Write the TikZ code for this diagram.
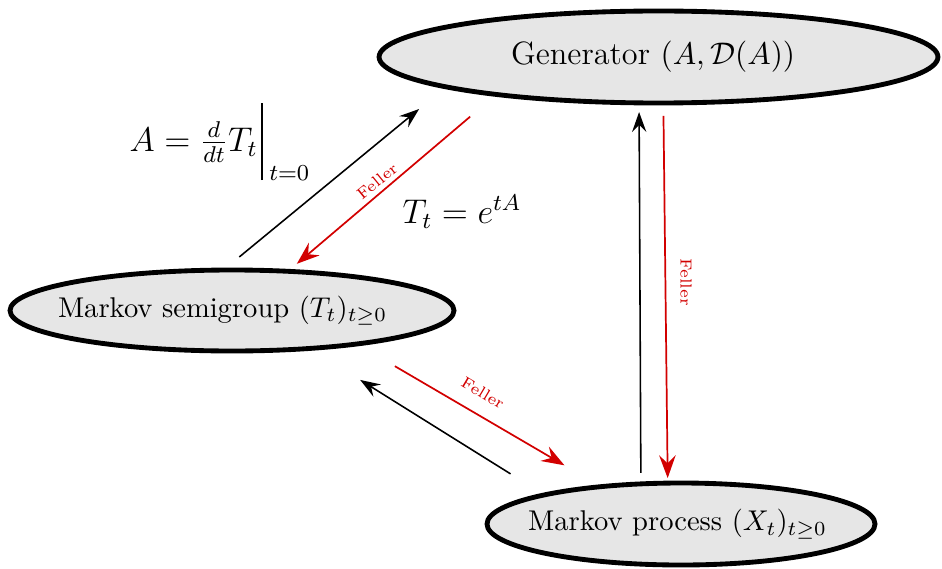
\documentclass[tikz,border=0pt]{standalone}
\usetikzlibrary{shapes.geometric,arrows.meta}
\definecolor{fred}{RGB}{210,0,0}
\definecolor{efill}{RGB}{230,230,230}
\begin{document}
\begin{tikzpicture}[x=0.35pt,y=-0.35pt,
  bubble/.style={ellipse,draw,line width=1.7pt,fill=efill,inner sep=0pt,outer sep=0pt},
  blk/.style={line width=0.55pt,-{Stealth[length=7pt,width=5pt,inset=2.5pt]}},
  redarr/.style={fred,line width=0.6pt,-{Stealth[length=8pt,width=5.8pt,inset=2.8pt]}},
  feller/.style={fred,font=\fontsize{5.6}{6}\selectfont,inner sep=0pt},
  mathlbl/.style={font=\fontsize{11.5}{14}\selectfont,inner sep=0pt,anchor=base west}]
\useasboundingbox (0,0) rectangle (942,568);
\node[bubble,minimum width=195.6pt,minimum height=32.2pt,font=\fontsize{11.3}{13}\selectfont] (gen) at (658.5,57)
  {\makebox[0pt]{\kern-3.8pt Generator $(A,\mathcal{D}(A))$}};
\node[bubble,minimum width=155.4pt,minimum height=28.35pt,font=\fontsize{10}{12}\selectfont] (sg) at (232,310.5)
  {\makebox[0pt]{\kern-6.6pt Markov semigroup $(T_t)_{t\geq 0}$}};
\node[bubble,minimum width=135.8pt,minimum height=28.7pt,font=\fontsize{10}{12}\selectfont] (proc) at (681,524)
  {\makebox[0pt]{\kern-2.4pt Markov process $(X_t)_{t\geq 0}$}};
\draw[blk,shorten <=7.2pt,shorten >=12.2pt] (sg.102.4) -- (gen.188);
\draw[redarr,shorten <=12pt,shorten >=4.05pt] (gen.193.9) -- (sg.35);
\draw[blk,shorten <=3.85pt,shorten >=3.2pt] (proc.135.6) -- (gen.247.5);
\draw[redarr,shorten <=4.55pt,shorten >=1.75pt] (gen.276.2) -- (proc.108.9);
\draw[redarr,shorten <=15.4pt,shorten >=14.8pt] (sg.345.6) -- (proc.155.2);
\draw[blk,shorten <=13.9pt,shorten >=20.8pt] (proc.168.1) -- (sg.334);
\node[mathlbl] (lA) at (129,151) {$A=\frac{d}{dt}T_t$\kern1.2pt\rule[-10.2pt]{0.6pt}{27pt}\kern2.2pt\raisebox{-10.4pt}{$\scriptstyle t=0$}};
\node[mathlbl] (lT) at (402,223) {$T_t=e^{tA}$};
\node[feller,rotate=39.2] (f1) at (377,181) {Feller};
\node[feller,rotate=-90] (f2) at (686,282) {Feller};
\node[feller,rotate=-30.8] (f3) at (483,393) {Feller};
\end{tikzpicture}
\end{document}
